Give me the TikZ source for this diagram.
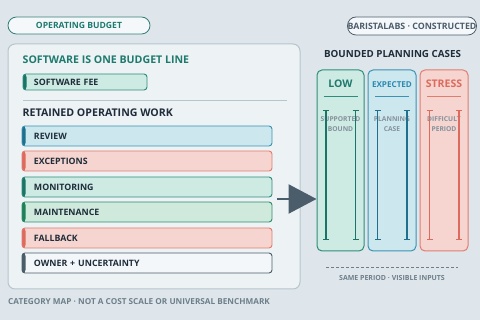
\documentclass[tikz,border=0pt]{standalone}
\usepackage{fontspec}
\setmainfont{Open Sans}
\usetikzlibrary{arrows.meta}
\definecolor{bg}{HTML}{DEE6EB}
\definecolor{panelfill}{HTML}{EDF2F5}
\definecolor{panelline}{HTML}{B7C5CD}
\definecolor{ink}{HTML}{1F2D3A}
\definecolor{slate}{HTML}{4B5D6B}
\definecolor{muted}{HTML}{6E7F8A}
\definecolor{tealtext}{HTML}{1F7A6E}
\definecolor{tealfill}{HTML}{CDEAE3}
\definecolor{tealline}{HTML}{2D8D7C}
\definecolor{tealbar}{HTML}{1B7566}
\definecolor{greenfill}{HTML}{CFEADD}
\definecolor{greenline}{HTML}{2D8D6A}
\definecolor{greenbar}{HTML}{1E8058}
\definecolor{bluefill}{HTML}{CDE7EF}
\definecolor{blueline}{HTML}{3B93B3}
\definecolor{bluebar}{HTML}{1F6F8F}
\definecolor{bluetext}{HTML}{2B8AB0}
\definecolor{redfill}{HTML}{F6D4CF}
\definecolor{redline}{HTML}{E07D70}
\definecolor{redbar}{HTML}{DD6A5C}
\definecolor{whitefill}{HTML}{F4F7F9}
\definecolor{pillfill}{HTML}{F5F8FA}
\tikzset{
  base/.style={font=\bfseries, inner sep=0pt},
  pill/.style={base, draw, fill=pillfill, rounded corners=8.5pt, line width=0.8pt},
  heading/.style={base, anchor=west, font=\fontsize{10.6}{13}\selectfont\bfseries},
  rowbox/.style 2 args={draw=#1, fill=#2, line width=0.9pt, rounded corners=3pt,
     minimum height=20pt, text width=226pt, inner xsep=12pt, inner ysep=0pt, align=left,
     font=\fontsize{8.8}{10}\selectfont\bfseries, text=ink},
  bar/.style={path picture={\fill[#1] (path picture bounding box.north west) rectangle ([xshift=3.5pt]path picture bounding box.south west);}},
  casecol/.style 2 args={draw=#1, fill=#2, line width=1pt, rounded corners=5pt, minimum height=181pt, inner sep=0pt},
  casehead/.style={base, font=\fontsize{10.5}{12}\selectfont\bfseries},
  whisker/.style={line width=1.3pt, {Bar[width=6pt,line width=1.3pt]}-{Bar[width=6pt,line width=1.3pt]}},
  note/.style={base, text=muted!85!white, align=center, font=\fontsize{6.7}{10}\selectfont\bfseries},
  caption/.style={base, text=muted, font=\fontsize{8.2}{9}\selectfont\bfseries},
}
\begin{document}
\begin{tikzpicture}[x=1pt,y=-1pt]
\fill[bg] (0,0) rectangle (480,320);
\useasboundingbox (0,0) rectangle (480,320);

% left pill
\node[pill, draw=tealline!70!slate, text=tealtext, minimum width=142pt, minimum height=17pt,
      font=\fontsize{8.6}{10}\selectfont\bfseries] (opb) at (79,25.5) {OPERATING BUDGET};

% panel
\node[draw=panelline, fill=panelfill, line width=1pt, rounded corners=7pt,
      minimum width=292pt, minimum height=245pt, inner sep=0pt] (panel) at (154,166.5) {};

\node[heading, text=tealtext] (h1) at (22.5,60) {SOFTWARE IS ONE BUDGET LINE};
\node[rowbox={tealline}{tealfill}, bar=tealbar, text width=102pt, inner xsep=11pt, minimum height=16pt] (fee) at (85,82) {SOFTWARE FEE};
\draw[panelline, line width=1pt] (23,101) -- (287,101);
\node[heading, text=ink] (h2) at (22.5,113) {RETAINED OPERATING WORK};

\node[rowbox={blueline}{bluefill}, bar=bluebar] (review) at (147,136) {REVIEW};
\node[rowbox={redline}{redfill}, bar=redbar] (exceptions) at (147,161) {EXCEPTIONS};
\node[rowbox={tealline}{tealfill}, bar=tealbar] (monitoring) at (147,187) {MONITORING};
\node[rowbox={greenline}{greenfill}, bar=greenbar] (maintenance) at (147,212) {MAINTENANCE};
\node[rowbox={redline}{redfill}, bar=redbar] (fallback) at (147,238) {FALLBACK};
\node[rowbox={slate}{whitefill}, bar=slate] (owner) at (147,263) {OWNER + UNCERTAINTY};

\node[caption, anchor=west] (cap) at (8,302) {CATEGORY MAP · NOT A COST SCALE OR UNIVERSAL BENCHMARK};

% right side
\node[pill, draw=slate, text=slate, minimum width=128pt, minimum height=18pt,
      font=\fontsize{8.8}{10}\selectfont\bfseries] (brand) at (412,26) {BARISTALABS · CONSTRUCTED};
\node[base, text=ink, font=\fontsize{9.8}{11}\selectfont\bfseries] (bpc) at (392.5,54) {BOUNDED PLANNING CASES};

\node[casecol={tealline}{tealfill}, minimum width=47pt] (low) at (340.5,160.5) {};
\node[casecol={blueline}{bluefill}, minimum width=48pt] (expected) at (392,160.5) {};
\node[casecol={redline}{redfill}, minimum width=48pt] (stress) at (444,160.5) {};

\node[casehead, text=tealtext] (lowh) at (340.5,84) {LOW};
\node[casehead, text=bluetext, font=\fontsize{8.1}{9}\selectfont\bfseries] (exph) at (392,85) {EXPECTED};
\node[casehead, text=redbar] (strh) at (444,84) {STRESS};

\draw[tealline, line width=1.2pt] (323.5,96.5) -- (357.5,96.5);
\draw[blueline, line width=1.2pt] (375,96.5) -- (409,96.5);
\draw[redline, line width=1.2pt] (427,96.5) -- (461,96.5);

\node[note] (lown) at (340.5,124) {SUPPORTED\\BOUND};
\node[note] (expn) at (392,124) {PLANNING\\CASE};
\node[note] (strn) at (444,124) {DIFFICULT\\PERIOD};

\draw[whisker, tealbar] (326,110) -- (326,240);
\draw[whisker, tealbar] (355.5,110) -- (355.5,240);
\draw[whisker, bluebar] (377.5,110) -- (377.5,240);
\draw[whisker, bluebar] (407,110) -- (407,240);
\draw[whisker, redbar] (429.5,110) -- (429.5,240);
\draw[whisker, redbar] (459,110) -- (459,240);

\draw[muted, line width=0.9pt, dash pattern=on 3pt off 2pt] (326,267) -- (458,267);
\node[caption, text=muted, font=\fontsize{7}{9}\selectfont\bfseries] (same) at (392,278) {SAME PERIOD · VISIBLE INPUTS};

% arrow
\coordinate (astart) at (277,199);
\draw[slate, line width=2.5pt, -{Triangle[length=28pt,width=29pt]}] (astart) -- (astart -| low.west);
\end{tikzpicture}
\end{document}
